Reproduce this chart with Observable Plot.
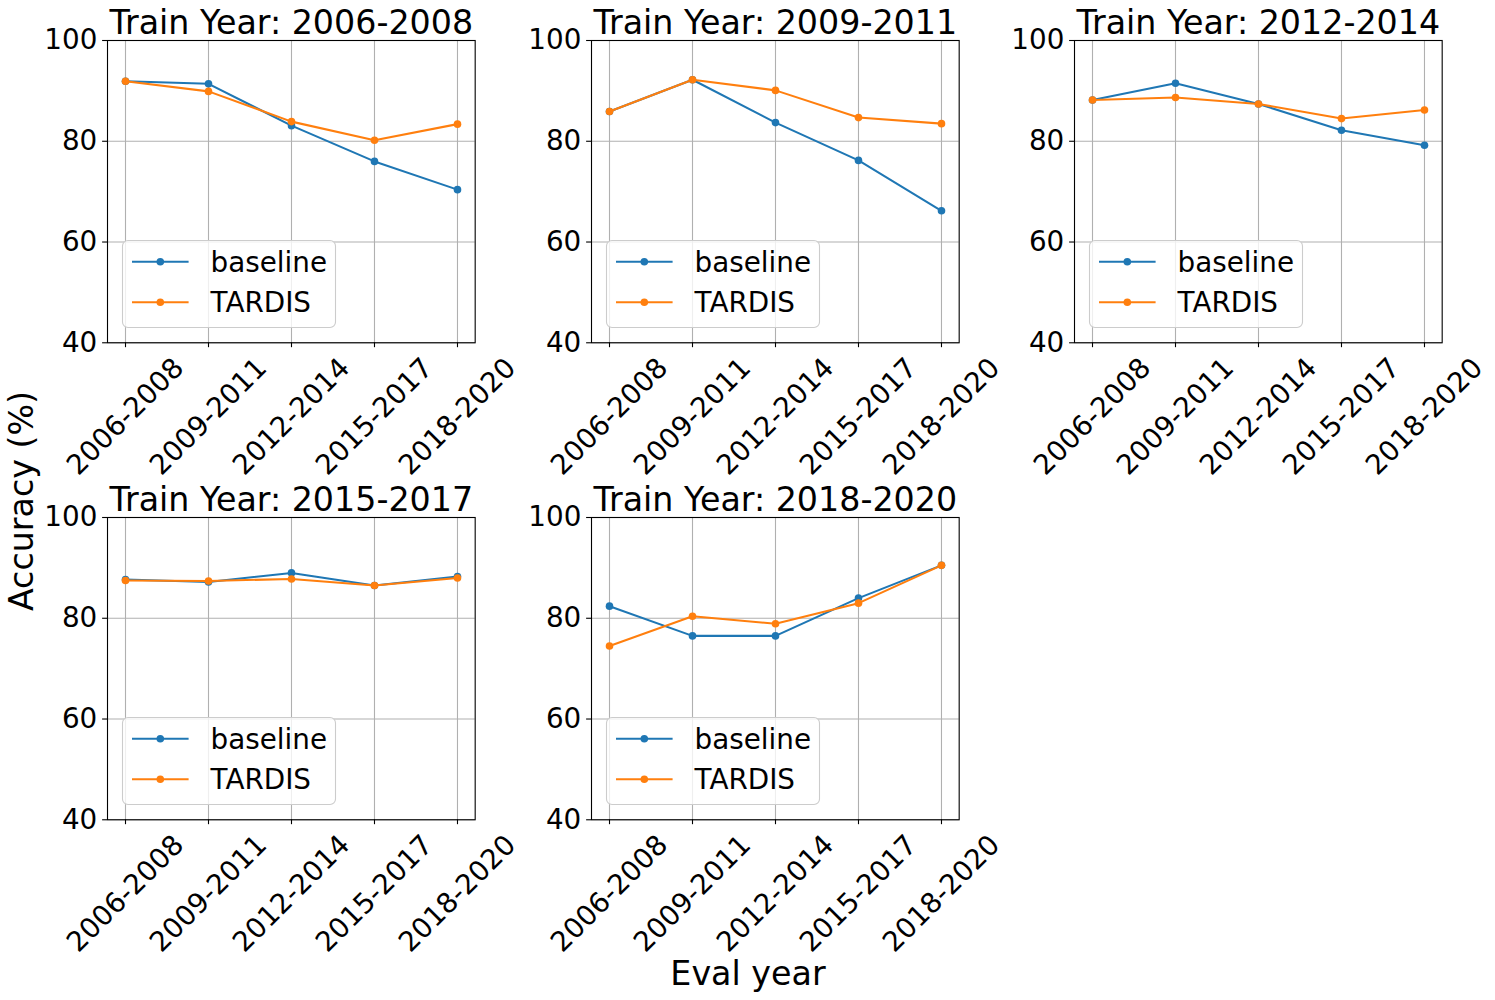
<!DOCTYPE html>
<html><head><meta charset="utf-8">
<script src="https://cdn.jsdelivr.net/npm/d3@7"></script>
<script src="https://cdn.jsdelivr.net/npm/@observablehq/plot@0.6"></script>
<style>
body{margin:0;background:#fff;}
#fig{position:relative;width:1495px;height:1000px;font-family:"DejaVu Sans",sans-serif;overflow:hidden;background:#fff;}
.panel{position:absolute;}
.panel svg{overflow:visible;}
.overlay{position:absolute;left:0;top:0;overflow:visible;}
</style></head><body><div id="fig"></div>
<script>
// ---- data ----
const evalYears = ["2006-2008","2009-2011","2012-2014","2015-2017","2018-2020"];
const trainYears = ["2006-2008","2009-2011","2012-2014","2015-2017","2018-2020"];
const seriesNames = ["baseline","TARDIS"];
const seriesColors = ["#1f77b4","#ff7f0e"];
const baselineAcc = [
  [91.9, 91.4, 83.1, 76.0, 70.4],
  [85.9, 92.2, 83.7, 76.2, 66.2],
  [88.2, 91.5, 87.4, 82.2, 79.2],
  [87.7, 87.2, 89.0, 86.5, 88.3],
  [82.4, 76.5, 76.5, 84.0, 90.5]
];
const tardisAcc = [
  [91.9, 89.9, 83.9, 80.2, 83.4],
  [85.9, 92.2, 90.1, 84.7, 83.5],
  [88.2, 88.7, 87.4, 84.5, 86.2],
  [87.5, 87.4, 87.8, 86.5, 88.0],
  [74.5, 80.4, 78.9, 83.0, 90.5]
];
const yTicks = [40, 60, 80, 100];
const xAxisTitle = "Eval year";
const yAxisTitle = "Accuracy (%)";
const titlePrefix = "Train Year: ";

// ---- layout ----
const colLeft = [107.3, 590.8, 1074.3];
const rowTop = [40, 517.3];
const W = 367.7, H = 302.3;
const FONT = "DejaVu Sans";
const fig = document.getElementById("fig");

trainYears.forEach((ty, i) => {
  const c = i % 3, r = Math.floor(i / 3);
  const rows = seriesNames.flatMap((s, k) =>
    evalYears.map((ey, j) => ({series: s, evalYear: ey, acc: (k === 0 ? baselineAcc : tardisAcc)[i][j]})));
  const marks = [
    Plot.gridX(evalYears, {stroke: "#b0b0b0", strokeOpacity: 1, strokeWidth: 1.1}),
    Plot.gridY(yTicks, {stroke: "#b0b0b0", strokeOpacity: 1, strokeWidth: 1.1}),
    Plot.axisX(evalYears, {tickSize: 4.9, tickFormat: () => "", strokeWidth: 1.1, label: null}),
    Plot.text(evalYears, {x: d => d, text: d => d, frameAnchor: "bottom", rotate: -45, textAnchor: "middle", lineAnchor: "middle", dy: 74, fontSize: 27.8, fill: "black"}),
    Plot.axisY(yTicks, {tickSize: 4.9, tickPadding: 5.3, fontSize: 27.8, strokeWidth: 1.1, label: null}),
  ];
  seriesNames.forEach((s, k) => {
    const d = rows.filter(o => o.series === s);
    marks.push(Plot.line(d, {x: "evalYear", y: "acc", stroke: seriesColors[k], strokeWidth: 2.08}));
    marks.push(Plot.dot(d, {x: "evalYear", y: "acc", fill: seriesColors[k], r: 3.8}));
  });
  marks.push(Plot.frame({stroke: "black", strokeWidth: 1.11}));
  marks.push(Plot.text([titlePrefix + ty], {text: d => d, frameAnchor: "top", lineAnchor: "bottom", dy: -7, fontSize: 33.3, fill: "black"}));

  const plot = Plot.plot({
    width: W, height: H,
    marginLeft: 0, marginRight: 0, marginTop: 0, marginBottom: 0,
    style: {overflow: "visible", background: "transparent", fontFamily: FONT, color: "black"},
    x: {type: "point", domain: evalYears, padding: 0.2},
    y: {domain: [40, 100]},
    marks
  });
  const div = document.createElement("div");
  div.className = "panel";
  div.style.left = colLeft[c] + "px";
  div.style.top = rowTop[r] + "px";
  div.style.width = W + "px";
  div.style.height = H + "px";
  div.appendChild(plot);
  fig.appendChild(div);

  // legend (upper-left of the lower-left area, like matplotlib's "best")
  const lg = d3.create("svg").attr("class", "overlay")
    .attr("width", 215).attr("height", 90)
    .style("left", (colLeft[c] + 14.7) + "px").style("top", (rowTop[r] + 200) + "px")
    .style("font-family", FONT);
  lg.append("rect").attr("x", 0.5).attr("y", 0.5).attr("width", 213).attr("height", 87)
    .attr("rx", 5.5).attr("fill", "rgba(255,255,255,0.8)").attr("stroke", "#cccccc").attr("stroke-width", 1.1);
  seriesNames.forEach((s, k) => {
    const yy = 21.7 + k * 40.6;
    lg.append("line").attr("x1", 10).attr("x2", 66.6).attr("y1", yy).attr("y2", yy)
      .attr("stroke", seriesColors[k]).attr("stroke-width", 2.08);
    lg.append("circle").attr("cx", 38.3).attr("cy", yy).attr("r", 3.8).attr("fill", seriesColors[k]);
    lg.append("text").attr("x", 88.6).attr("y", yy).attr("dy", "0.36em")
      .attr("font-size", 27.8).attr("fill", "black").text(s);
  });
  fig.appendChild(lg.node());
});

// figure-level axis titles
const ov = d3.create("svg").attr("class", "overlay").attr("width", 1495).attr("height", 1000)
  .style("font-family", FONT).style("pointer-events", "none");
ov.append("text").attr("x", 748).attr("y", 985).attr("text-anchor", "middle")
  .attr("font-size", 33.3).attr("fill", "black").text(xAxisTitle);
ov.append("text").attr("transform", "translate(32.5,501) rotate(-90)").attr("text-anchor", "middle")
  .attr("font-size", 33.3).attr("fill", "black").text(yAxisTitle);
fig.appendChild(ov.node());
</script>
</body></html>
